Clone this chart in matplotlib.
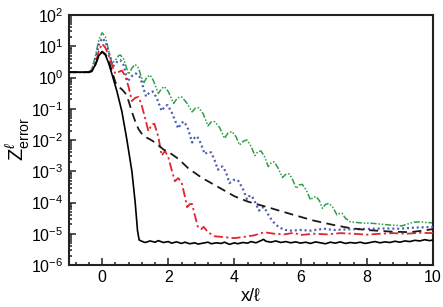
import matplotlib
matplotlib.use("Agg")
import matplotlib.pyplot as plt
import numpy as np
from matplotlib.ticker import LogLocator, MultipleLocator, NullFormatter

plt.rcParams['font.family'] = ['Liberation Sans', 'DejaVu Sans']
plt.rcParams['mathtext.fontset'] = 'custom'
plt.rcParams['mathtext.rm'] = 'Liberation Sans'
plt.rcParams['mathtext.it'] = 'Liberation Sans:italic'
plt.rcParams['mathtext.bf'] = 'Liberation Sans:bold'

# ---- data: x positions and log10 of Z_error ----
solid_x = [-1.0, -0.4, -0.3, -0.2, -0.1, 0.0, 0.1, 0.2, 0.3, 0.45, 0.6, 0.75, 0.9, 1.0, 1.07, 1.12,
           1.2, 1.3, 1.45, 1.6, 1.7, 1.85, 2.0, 2.1, 2.25, 2.4, 2.5, 2.65, 2.8, 2.9, 3.05, 3.2, 3.3, 3.45,
           3.6, 3.7, 3.85, 4.0, 4.1, 4.25, 4.4, 4.5, 4.65, 4.8, 4.88, 4.95, 5.1, 5.25, 5.4, 5.55, 5.7,
           5.85, 6.0, 6.15, 6.3, 6.45, 6.6, 6.75, 6.9, 7.05, 7.2, 7.35, 7.5, 7.65, 7.8, 7.95, 8.1, 8.25,
           8.4, 8.55, 8.7, 8.85, 9.0, 9.15, 9.3, 9.45, 9.6, 9.75, 9.9, 10.0]
solid_log = [0.17, 0.17, 0.22, 0.42, 0.7, 0.82, 0.72, 0.45, 0.1, -0.45, -1.1, -2.0, -3.0, -4.0, -4.9, -5.2,
             -5.24, -5.28, -5.23, -5.27, -5.22, -5.28, -5.25, -5.3, -5.26, -5.31, -5.27, -5.32, -5.29, -5.33, -5.3, -5.27, -5.32, -5.29,
             -5.31, -5.27, -5.34, -5.29, -5.32, -5.28, -5.3, -5.25, -5.29, -5.22, -5.18, -5.24, -5.27, -5.23, -5.28, -5.25, -5.29,
             -5.26, -5.3, -5.27, -5.31, -5.26, -5.29, -5.32, -5.27, -5.3, -5.26, -5.31, -5.28, -5.3, -5.27, -5.31, -5.28, -5.25,
             -5.29, -5.26, -5.28, -5.24, -5.27, -5.23, -5.25, -5.21, -5.23, -5.19, -5.22, -5.2]

dashed_x = [-1.0, -0.4, -0.3, -0.2, -0.1, 0.0, 0.1, 0.2, 0.3, 0.4, 0.5, 0.6, 0.7, 0.8, 0.9, 1.0, 1.1, 1.2,
            1.3, 1.45, 1.6, 1.85, 2.1, 2.3, 2.6, 3.0, 3.5, 4.0, 4.4, 5.0, 5.8, 6.4, 7.0, 7.5, 8.0, 8.7, 9.3, 9.7, 10.0]
dashed_log = [0.17, 0.17, 0.2, 0.42, 0.7, 0.83, 0.75, 0.52, 0.2, -0.15, -0.3, -0.38, -0.5, -0.75, -1.1, -1.4, -1.65, -1.8,
              -1.9, -1.98, -2.08, -2.3, -2.45, -2.6, -2.9, -3.2, -3.5, -3.8, -3.97, -4.15, -4.4, -4.58, -4.72, -4.82, -4.88, -4.93, -4.95, -4.9, -4.85]

red_x = [-1.0, -0.4, -0.3, -0.2, -0.1, 0.0, 0.1, 0.2, 0.3, 0.4, 0.5, 0.6, 0.7, 0.8, 0.9, 1.0, 1.1, 1.2, 1.3, 1.4,
         1.5, 1.58, 1.7, 1.8, 1.9, 2.0, 2.1, 2.2, 2.3, 2.4, 2.5, 2.57, 2.65, 2.72, 2.8, 2.9, 3.0, 3.07, 3.2, 3.4,
         3.6, 3.8, 4.0, 4.3, 4.6, 4.9, 5.2, 5.5, 5.8, 6.0, 6.4, 6.8, 7.2, 7.6, 8.0, 8.4, 8.8, 9.2, 9.6, 10.0]
red_log = [0.17, 0.17, 0.22, 0.45, 0.85, 1.08, 0.95, 0.7, 0.4, 0.12, 0.18, 0.22, 0.05, -0.3, -0.75, -0.65, -0.62, -0.9, -1.3, -1.72,
           -1.5, -1.48, -1.9, -2.5, -2.35, -2.55, -2.95, -3.32, -3.22, -3.35, -3.8, -4.15, -4.05, -4.05, -4.4, -4.8, -4.85, -4.78, -4.95, -5.08,
           -5.1, -5.12, -5.14, -5.1, -5.05, -4.95, -5.0, -5.02, -4.97, -5.04, -5.0, -5.02, -4.98, -5.0, -5.03, -5.0, -4.98, -5.0, -4.97, -4.98]

blue_x = [-1.0, -0.4, -0.3, -0.2, -0.1, 0.0, 0.1, 0.2, 0.33, 0.45, 0.55, 0.65, 0.77, 0.9, 1.02, 1.15, 1.33, 1.43,
          1.53, 1.65, 1.8, 1.9, 1.98, 2.12, 2.3, 2.4, 2.48, 2.6, 2.72, 2.8, 2.87, 2.98, 3.1, 3.2, 3.3, 3.4, 3.5,
          3.57, 3.65, 3.75, 3.85, 3.97, 4.1, 4.25, 4.38, 4.44, 4.52, 4.63, 4.74, 4.82, 4.9, 5.0, 5.15, 5.35, 5.55,
          5.7, 6.0, 6.3, 6.7, 7.0, 7.4, 7.8, 8.2, 8.6, 9.0, 9.2, 9.5, 9.8, 10.0]
blue_log = [0.17, 0.17, 0.27, 0.6, 1.05, 1.26, 1.15, 0.8, 0.35, 0.5, 0.56, 0.4, -0.13, 0.05, 0.13, 0.0, -0.61, -0.48,
            -0.45, -0.65, -1.07, -0.92, -0.88, -1.15, -1.63, -1.45, -1.41, -1.65, -2.08, -1.92, -1.88, -2.1, -2.45, -2.38, -2.4, -2.65, -2.95,
            -2.86, -2.85, -3.05, -3.38, -3.28, -3.28, -3.55, -3.9, -3.8, -3.78, -4.0, -4.26, -4.16, -4.15, -4.35, -4.6, -4.8, -4.88,
            -4.9, -4.88, -4.9, -4.84, -4.88, -4.86, -4.85, -4.84, -4.83, -4.84, -4.82, -4.8, -4.79, -4.78]

green_x = [-1.0, -0.4, -0.3, -0.2, -0.1, 0.0, 0.1, 0.2, 0.3, 0.4, 0.5, 0.55, 0.65, 0.8, 0.9, 1.0, 1.1, 1.25, 1.35,
           1.45, 1.55, 1.7, 1.8, 1.88, 2.0, 2.16, 2.28, 2.4, 2.55, 2.72, 2.82, 2.92, 3.05, 3.2, 3.3, 3.4, 3.55, 3.7,
           3.8, 3.93, 4.05, 4.15, 4.28, 4.38, 4.5, 4.62, 4.7, 4.8, 4.92, 5.02, 5.12, 5.2, 5.32, 5.45, 5.55, 5.65,
           5.75, 5.87, 5.95, 6.05, 6.17, 6.3, 6.38, 6.47, 6.57, 6.66, 6.75, 6.86, 6.97, 7.1, 7.18, 7.25, 7.35, 7.5,
           7.7, 7.9, 8.1, 8.3, 8.5, 8.7, 8.9, 9.05, 9.2, 9.4, 9.6, 9.8, 10.0]
green_log = [0.18, 0.18, 0.3, 0.7, 1.2, 1.43, 1.3, 0.85, 0.45, 0.55, 0.7, 0.72, 0.6, 0.1, 0.3, 0.42, 0.3, -0.19, 0.0,
             0.08, -0.1, -0.51, -0.35, -0.29, -0.45, -0.83, -0.65, -0.62, -0.8, -1.1, -0.98, -0.97, -1.15, -1.55, -1.42, -1.41, -1.6, -1.95,
             -1.78, -1.73, -1.9, -2.16, -2.03, -2.0, -2.2, -2.5, -2.38, -2.35, -2.55, -2.85, -2.72, -2.7, -2.9, -3.2, -3.1, -3.08,
             -3.25, -3.55, -3.44, -3.42, -3.6, -3.92, -3.83, -3.81, -3.95, -4.19, -4.06, -4.03, -4.15, -4.4, -4.35, -4.34, -4.5, -4.62,
             -4.64, -4.66, -4.66, -4.68, -4.7, -4.72, -4.73, -4.75, -4.7, -4.63, -4.62, -4.64, -4.65]

x_major_ticks = [0, 2, 4, 6, 8, 10]
x_tick_labels = ['0', '2', '4', '6', '8', '10']

fig = plt.figure(figsize=(4.43, 3.07), dpi=100)
ax = fig.add_axes([0.1558, 0.1368, 0.8216, 0.8143])

def vals(logs):
    return np.power(10.0, np.asarray(logs))

ax.plot(green_x, vals(green_log), color='#2e9e48', lw=1.1,
        linestyle=(0, (4, 1.2, 1, 1.2, 1, 1.2)), zorder=2)
ax.plot(blue_x, vals(blue_log), color='#4a5fb0', lw=1.6,
        linestyle=(0, (0.9, 1.3)), zorder=3)
ax.plot(red_x, vals(red_log), color='#e3242b', lw=1.3,
        linestyle=(0, (5, 1.8, 1.2, 1.8)), zorder=4)
ax.plot(dashed_x, vals(dashed_log), color='#1a1a1a', lw=1.3,
        linestyle=(0, (5, 3)), zorder=5)
ax.plot(solid_x, vals(solid_log), color='black', lw=1.2, zorder=6)

ax.set_yscale('log')
ax.set_xlim(-1, 10)
ax.set_ylim(1e-6, 1e2)

ax.set_xticks(x_major_ticks)
ax.set_xticklabels(x_tick_labels)
ax.xaxis.set_minor_locator(MultipleLocator(0.4))
ax.yaxis.set_major_locator(LogLocator(base=10, numticks=20))
ax.yaxis.set_minor_locator(LogLocator(base=10, subs=np.arange(2, 10), numticks=100))
ax.yaxis.set_minor_formatter(NullFormatter())

ax.tick_params(which='both', direction='in', top=False, right=False, width=1.1, color='#222222')
ax.tick_params(which='major', length=5, labelsize=11.5, pad=4)
ax.tick_params(which='minor', length=2.5)
ax.tick_params(axis='x', which='major', pad=3.5)

for s in ax.spines.values():
    s.set_linewidth(1.5)
    s.set_color('#222222')

ax.set_xlabel('x/ℓ', fontsize=13, labelpad=2)
fig.text(18 / 443, 0.547, r'$\mathrm{Z}^{\ell}_{\mathrm{error}}$', fontsize=14.5,
         rotation=90, ha='center', va='center')

fig.savefig('out.png', dpi=100)
